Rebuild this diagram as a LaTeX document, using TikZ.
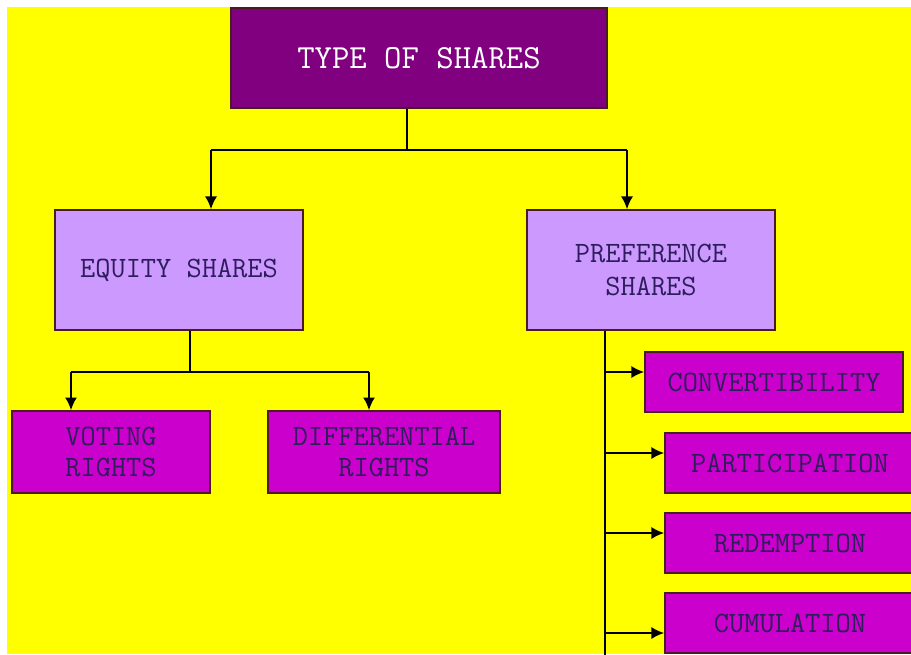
\documentclass[tikz,border=0pt]{standalone}
\usepackage{fontspec}
\usetikzlibrary{positioning, arrows.meta}

\definecolor{bgyellow}{HTML}{FFFF00}
\definecolor{headpurple}{HTML}{800080}
\definecolor{lilac}{HTML}{CC99FF}
\definecolor{leafpink}{HTML}{CC00CC}
\definecolor{boxedge}{HTML}{4A1C22}
\definecolor{inktext}{HTML}{2E1D5C}

\tikzset{
  box/.style={draw=boxedge, line width=1.2pt, align=center, inner sep=0pt},
  headbox/.style={box, fill=headpurple, text=white, font=\fontsize{24}{28}\ttfamily,
    minimum width=9.4cm, minimum height=2.5cm},
  midbox/.style={box, fill=lilac, text=inktext, font=\fontsize{21}{23}\ttfamily,
    minimum width=6.2cm, minimum height=3cm},
  leafbox/.style={box, fill=leafpink, text=inktext, font=\fontsize{21}{22}\ttfamily,
    minimum height=2.05cm},
  sidebox/.style={box, fill=leafpink, text=inktext, font=\fontsize{21}{22}\ttfamily,
    minimum height=1.5cm},
  link/.style={line width=1.1pt, draw=black},
  arr/.style={link, -{Latex[length=9pt,width=8.5pt]}},
}

\begin{document}
\begin{tikzpicture}[x=0.025cm, y=-0.025cm]
  \useasboundingbox (0,0) rectangle (911,654);
  \clip (0,0) rectangle (911,654);
  \fill[white] (0,0) rectangle (911,654);
  \fill[bgyellow] (7,7) rectangle (911,654);

  % boxes
  \node[headbox] (top) at (419,58) {TYPE OF SHARES};
  \node[midbox] (equity) at (179,270) {EQUITY SHARES};
  \node[midbox] (pref) at (651,270) {PREFERENCE\\SHARES};
  \node[leafbox, minimum width=4.95cm] (voting) at (111,452) {VOTING\\RIGHTS};
  \node[leafbox, minimum width=5.8cm] (diff) at (384,452) {DIFFERENTIAL\\RIGHTS};
  \node[sidebox, minimum width=6.45cm] (conv) at (774,382) {CONVERTIBILITY};
  \node[sidebox, minimum width=6.25cm] (part) at (790,463) {PARTICIPATION};
  \node[sidebox, minimum width=6.25cm] (redeem) at (790,543) {REDEMPTION};
  \node[sidebox, minimum width=6.25cm] (cumul) at (790,623) {CUMULATION};

  % top split
  \coordinate (tj) at (407,150);
  \coordinate (tl) at (211,150);
  \coordinate (tr) at (627,150);
  \draw[link] (top.south -| tj) -- (tj);
  \draw[link] (tl) -- (tr);
  \draw[arr] (tl) -- (equity.north -| tl);
  \draw[arr] (tr) -- (pref.north -| tr);

  % equity split
  \coordinate (ej) at (190,372);
  \coordinate (el) at (71,372);
  \coordinate (er) at (369,372);
  \draw[link] (equity.south -| ej) -- (ej);
  \draw[link] (el) -- (er);
  \draw[arr] (el) -- (voting.north -| el);
  \draw[arr] (er) -- (diff.north -| er);

  % preference trunk
  \coordinate (pb) at (605,660);
  \draw[link] (pref.south -| pb) -- (pb);
  \foreach \y/\n in {372/conv, 453/part, 533/redeem, 633/cumul}{
    \coordinate (p\n) at (605,\y);
    \draw[arr] (p\n) -- (p\n -| \n.west);
  }
\end{tikzpicture}
\end{document}
